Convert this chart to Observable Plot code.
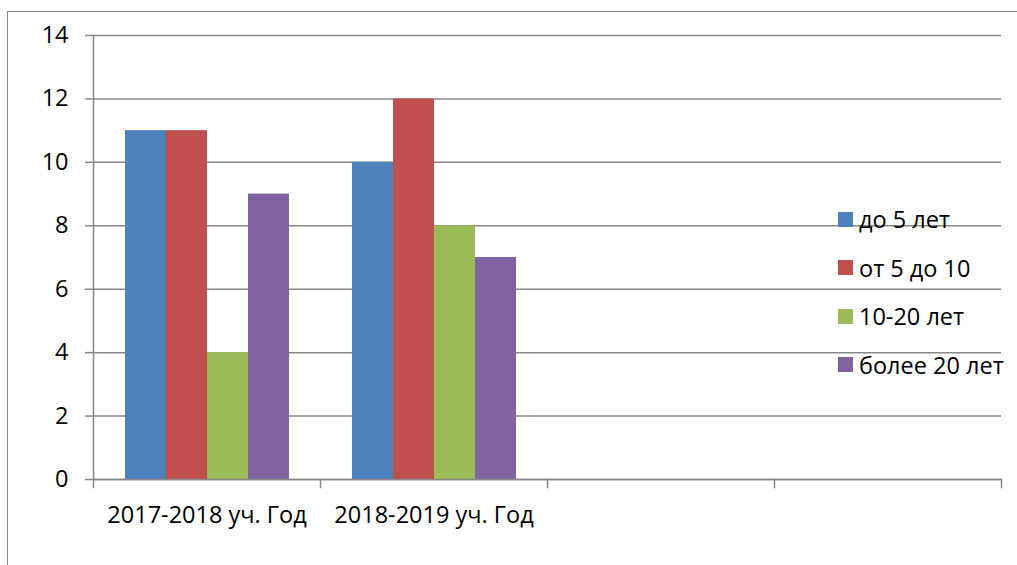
<!DOCTYPE html>
<html>
<head>
<meta charset="utf-8">
<script src="https://cdn.jsdelivr.net/npm/d3@7"></script>
<script src="https://cdn.jsdelivr.net/npm/@observablehq/plot@0.6"></script>
<style>
  html, body { margin: 0; padding: 0; background: #fff; }
  #wrap { position: relative; width: 1017px; height: 565px; overflow: hidden; font-family: "Open Sans", sans-serif; }
  #border { position: absolute; left: 7px; top: 11px; right: -5px; bottom: -5px; border-top: 1.5px solid #8a8a8a; border-left: 1.5px solid #8a8a8a; }
  #legend { position: absolute; left: 838px; top: 195px; }
  .item { height: 48.5px; display: flex; align-items: center; font-size: 23.5px; color: #000; white-space: nowrap; }
  .sw { width: 15px; height: 15px; margin-right: 6px; flex: none; }
  #chart { position: absolute; left: 0; top: 0; }
</style>
</head>
<body>
<div id="wrap">
  <div id="border"></div>
  <div id="chart"></div>
  <div id="legend"></div>
</div>
<script>
const categories = ["2017-2018 уч. Год", "2018-2019 уч. Год", "", " "];
const series = ["до 5 лет", "от 5 до 10", "10-20 лет", "более 20 лет"];
const values2017 = [11, 11, 4, 9];
const values2018 = [10, 12, 8, 7];
const yTicks = [0, 2, 4, 6, 8, 10, 12, 14];
const colors = ["#4F81BD", "#C0504D", "#9BBB59", "#8064A2"];

const data = [];
series.forEach((s, i) => {
  data.push({cat: categories[0], series: s, value: values2017[i]});
  data.push({cat: categories[1], series: s, value: values2018[i]});
});

const W = 1017, H = 565, MT = 35, MB = 86, ML = 91, MR = 15;
const grid = "#888888";
const FS = 23.5;

const chart = Plot.plot({
  width: W, height: H,
  marginTop: MT, marginBottom: MB, marginLeft: ML, marginRight: MR,
  style: {fontFamily: "'Open Sans', sans-serif", fontSize: FS + "px", color: "#000", background: "transparent"},
  fx: {domain: categories, padding: 0, label: null},
  x: {domain: series, axis: null, paddingInner: 0, paddingOuter: 0.747},
  y: {domain: [0, 14], label: null},
  color: {domain: series, range: colors},
  marks: [
    Plot.gridY(yTicks, {stroke: grid, strokeOpacity: 1, strokeWidth: 1.5}),
    Plot.barY(data, {fx: "cat", x: "series", y: "value", fill: "series"}),
    Plot.ruleY(categories, {fx: d => d, y: 0, stroke: grid, strokeWidth: 1.5}),
    Plot.frame({anchor: "right", stroke: grid, strokeWidth: 1.5, insetTop: H - MT - MB, insetBottom: -8}),
    Plot.frame({anchor: "left", stroke: grid, strokeWidth: 1.5, insetBottom: -8, facetAnchor: "left"}),
    Plot.axisY(yTicks, {tickSize: 8, tickPadding: 17, stroke: grid, strokeWidth: 1.5, fontSize: FS, label: null, tickFormat: d => String(d)}),
    Plot.axisFx({anchor: "bottom", tickSize: 0, tickPadding: 27, fontSize: FS, label: null})
  ]
});
document.getElementById("chart").appendChild(chart);

const legend = document.getElementById("legend");
series.forEach((s, i) => {
  const item = document.createElement("div");
  item.className = "item";
  const sw = document.createElement("span");
  sw.className = "sw";
  sw.style.background = colors[i];
  const t = document.createElement("span");
  t.textContent = s;
  item.appendChild(sw);
  item.appendChild(t);
  legend.appendChild(item);
});
</script>
</body>
</html>
